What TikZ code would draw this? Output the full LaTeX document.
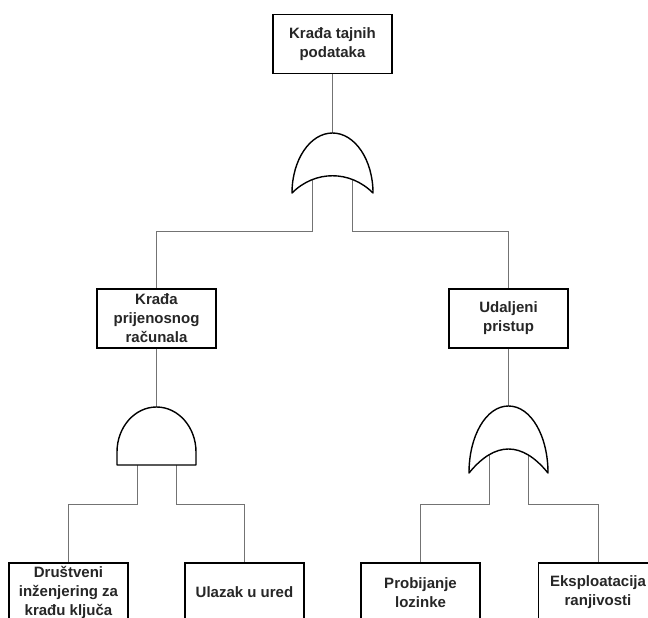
\documentclass[tikz,border=0pt]{standalone}
\usepackage{fontspec}
\setmainfont{Liberation Sans}
\begin{document}
\begin{tikzpicture}[x=1pt,y=-1pt,
  event/.style={draw=black,line width=1.4pt,fill=white,rectangle,
    minimum width=119pt,minimum height=59pt,inner sep=2pt,align=center,
    font=\fontsize{15}{19}\selectfont\bfseries,text=black!85},
  wire/.style={draw=black!55,line width=1pt},
  gate/.style={draw=black,line width=1.4pt,fill=white,line join=round}]
\useasboundingbox (0,0) rectangle (648,618);
\clip (0,0) rectangle (648,618);

% events
\node[event] (top) at (332.5,44) {Krađa tajnih\\podataka};
\node[event] (laptop) at (156.5,318.5) {Krađa\\prijenosnog\\računala};
\node[event] (remote) at (508.5,318.5) {Udaljeni\\pristup};
\node[event] (social) at (68.5,592.5) {Društveni\\inženjering za\\krađu ključa};
\node[event] (office) at (244.5,592.5) {Ulazak u ured};
\node[event] (crack) at (420.5,592.5) {Probijanje\\lozinke};
\node[event] (exploit) at (598,592.5) {Eksploatacija\\ranjivosti};

% gate terminals
\coordinate (g1top) at (332.5,133);
\coordinate (g1a) at (312.5,178);
\coordinate (g1b) at (352.5,178);
\coordinate (g2top) at (156.5,407);
\coordinate (g2a) at (137,460);
\coordinate (g2b) at (176,460);
\coordinate (g3top) at (508.5,406);
\coordinate (g3a) at (489,452);
\coordinate (g3b) at (528.5,452);

% levels of the horizontal runs
\coordinate (bus1) at (0,231);
\coordinate (bus2) at (0,504);

% connectors
\draw[wire] (top.south) -- (g1top);
\draw[wire] (g1a) -- (g1a |- bus1) -| (laptop.north);
\draw[wire] (g1b) -- (g1b |- bus1) -| (remote.north);
\draw[wire] (laptop.south) -- (g2top);
\draw[wire] (remote.south) -- (g3top);
\draw[wire] (g2a) -- (g2a |- bus2) -| (social.north);
\draw[wire] (g2b) -- (g2b |- bus2) -| (office.north);
\draw[wire] (g3a) -- (g3a |- bus2) -| (crack.north);
\draw[wire] (g3b) -- (g3b |- bus2) -| (exploit.north);

% OR gate under the top event
\draw[gate] (292,193) .. controls (292,160) and (310,133) .. (g1top)
  .. controls (355,133) and (373,160) .. (373,193)
  .. controls (350,170) and (315,170) .. cycle;

% AND gate under the laptop event
\draw[gate] (117,465) -- (117,452) arc[start angle=180,end angle=360,x radius=39.5,y radius=45]
  -- (196,465) -- cycle;

% OR gate under the remote access event
\draw[gate] (469,473) .. controls (469,436) and (486,406) .. (g3top)
  .. controls (531,406) and (548,436) .. (548,473)
  .. controls (522,441) and (495,441) .. cycle;
\end{tikzpicture}
\end{document}
